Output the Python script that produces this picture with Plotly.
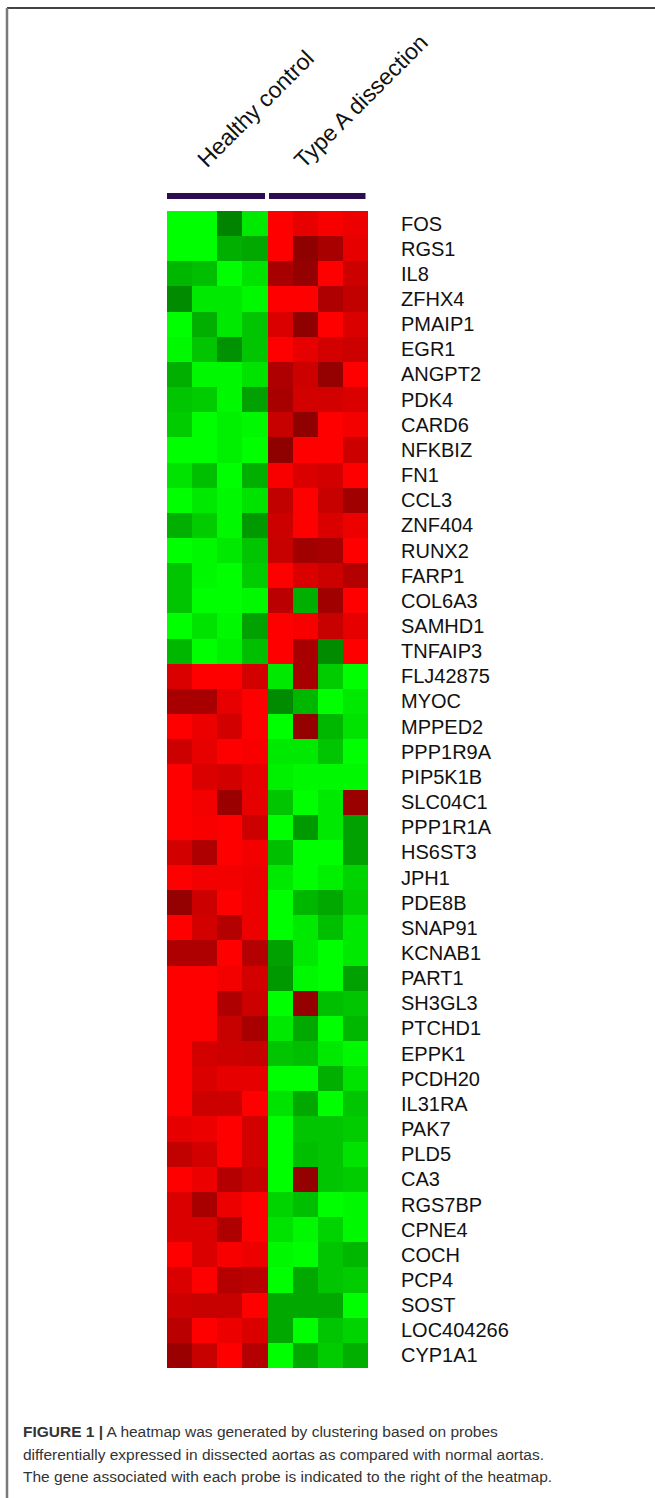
import plotly.graph_objects as go

W, H = 655, 1498

genes = [
    "FOS", "RGS1", "IL8", "ZFHX4", "PMAIP1", "EGR1", "ANGPT2", "PDK4", "CARD6",
    "NFKBIZ", "FN1", "CCL3", "ZNF404", "RUNX2", "FARP1", "COL6A3", "SAMHD1",
    "TNFAIP3", "FLJ42875", "MYOC", "MPPED2", "PPP1R9A", "PIP5K1B", "SLC04C1",
    "PPP1R1A", "HS6ST3", "JPH1", "PDE8B", "SNAP91", "KCNAB1", "PART1", "SH3GL3",
    "PTCHD1", "EPPK1", "PCDH20", "IL31RA", "PAK7", "PLD5", "CA3", "RGS7BP",
    "CPNE4", "COCH", "PCP4", "SOST", "LOC404266", "CYP1A1",
]

groups = ["Healthy control", "Type A dissection"]
group_sizes = [4, 4]
samples = ["HC1", "HC2", "HC3", "HC4", "TA1", "TA2", "TA3", "TA4"]

# relative expression per probe (negative = down / green, positive = up / red)
healthy_control = [
    [-1.0, -1.0, -0.15, -0.85], [-1.0, -1.0, -0.45, -0.4], [-0.5, -0.55, -1.0, -0.8],
    [-0.2, -0.85, -0.85, -0.95], [-1.0, -0.45, -0.85, -0.6], [-0.95, -0.6, -0.25, -0.6],
    [-0.45, -0.95, -0.95, -0.8], [-0.6, -0.65, -0.95, -0.35], [-0.65, -1.0, -0.9, -0.95],
    [-1.0, -1.0, -0.9, -1.0], [-0.8, -0.55, -1.0, -0.45], [-1.0, -0.85, -0.95, -0.8],
    [-0.45, -0.65, -0.95, -0.3], [-1.0, -0.95, -0.85, -0.6], [-0.6, -0.95, -1.0, -0.65],
    [-0.6, -1.0, -1.0, -0.95], [-1.0, -0.8, -0.95, -0.35], [-0.5, -1.0, -0.9, -0.55],
    [0.7, 1.0, 1.0, 0.65], [0.3, 0.3, 0.8, 1.0], [1.0, 0.85, 0.65, 1.0],
    [0.6, 0.8, 1.0, 0.95], [1.0, 0.7, 0.65, 0.8], [1.0, 0.9, 0.2, 0.8],
    [1.0, 0.95, 1.0, 0.6], [0.65, 0.35, 1.0, 0.9], [1.0, 0.9, 0.9, 0.85],
    [0.15, 0.6, 1.0, 0.85], [1.0, 0.65, 0.4, 0.85], [0.35, 0.35, 1.0, 0.4],
    [1.0, 1.0, 0.9, 0.65], [1.0, 1.0, 0.35, 0.6], [1.0, 1.0, 0.55, 0.3],
    [1.0, 0.65, 0.6, 0.55], [1.0, 0.7, 0.8, 0.8], [1.0, 0.6, 0.6, 1.0],
    [0.8, 0.85, 1.0, 0.65], [0.5, 0.65, 1.0, 0.65], [1.0, 0.85, 0.4, 0.55],
    [0.7, 0.3, 0.85, 1.0], [0.7, 0.7, 0.35, 1.0], [1.0, 0.7, 0.95, 0.85],
    [0.7, 1.0, 0.4, 0.45], [0.6, 0.55, 0.55, 1.0], [0.45, 1.0, 0.85, 0.7],
    [0.2, 0.55, 1.0, 0.4],
]

type_a_dissection = [
    [1.0, 0.8, 0.95, 0.85], [1.0, 0.1, 0.3, 0.8], [0.3, 0.15, 1.0, 0.6],
    [1.0, 1.0, 0.35, 0.5], [0.7, 0.1, 1.0, 0.7], [1.0, 0.8, 0.65, 0.6],
    [0.35, 0.6, 0.15, 1.0], [0.3, 0.65, 0.65, 0.7], [0.55, 0.1, 1.0, 0.9],
    [0.1, 1.0, 1.0, 0.6], [0.95, 0.7, 0.65, 1.0], [0.5, 1.0, 0.55, 0.25],
    [0.6, 1.0, 0.7, 0.85], [0.55, 0.25, 0.3, 1.0], [1.0, 0.7, 0.6, 0.4],
    [0.45, -0.45, 0.25, 1.0], [1.0, 0.95, 0.55, 0.8], [1.0, 0.3, -0.2, 1.0],
    [-0.85, 0.3, -0.65, -1.0], [-0.2, -0.5, -1.0, -0.85], [-1.0, 0.15, -0.5, -0.8],
    [-0.85, -0.85, -0.6, -1.0], [-0.9, -0.95, -0.95, -0.95], [-0.6, -1.0, -0.85, 0.2],
    [-1.0, -0.3, -0.85, -0.35], [-0.55, -1.0, -1.0, -0.35], [-0.85, -1.0, -0.9, -0.7],
    [-1.0, -0.5, -0.4, -0.65], [-1.0, -0.85, -0.55, -0.85], [-0.35, -0.85, -1.0, -0.85],
    [-0.3, -0.95, -1.0, -0.35], [-1.0, 0.15, -0.55, -0.6], [-0.85, -0.4, -1.0, -0.5],
    [-0.6, -0.55, -0.85, -0.95], [-1.0, -1.0, -0.45, -0.8], [-0.8, -0.4, -1.0, -0.6],
    [-1.0, -0.6, -0.6, -0.65], [-1.0, -0.55, -0.6, -0.8], [-1.0, 0.15, -0.6, -0.65],
    [-0.7, -0.55, -1.0, -0.95], [-0.8, -0.95, -0.7, -0.95], [-0.95, -1.0, -0.6, -0.5],
    [-1.0, -0.4, -0.6, -0.65], [-0.4, -0.4, -0.4, -1.0], [-0.4, -1.0, -0.6, -0.7],
    [-1.0, -0.4, -0.65, -0.45],
]

z = [hc + ta for hc, ta in zip(healthy_control, type_a_dissection)]

# green (down) -> dark near zero -> red (up); bright at the extremes
colorscale = [
    [0.0, "rgb(0,255,0)"],
    [0.5, "rgb(0,110,0)"],
    [0.5, "rgb(130,0,0)"],
    [1.0, "rgb(255,0,0)"],
]


def px_x(p):
    return p / W


def px_y(p):
    return 1 - p / H


fig = go.Figure(
    go.Heatmap(
        z=z,
        x=list(range(len(samples))),
        y=genes,
        zmin=-1,
        zmax=1,
        colorscale=colorscale,
        showscale=False,
        xgap=0,
        ygap=0,
        hovertemplate="%{y}<br>%{customdata}<br>%{z}<extra></extra>",
        customdata=[samples] * len(genes),
    )
)

label_font = dict(family="Arial, Liberation Sans, sans-serif", color="#111111")

fig.update_layout(
    width=W,
    height=H,
    margin=dict(l=0, r=0, t=0, b=0),
    paper_bgcolor="white",
    plot_bgcolor="white",
    xaxis=dict(
        domain=[px_x(167), px_x(368)],
        range=[-0.5, len(samples) - 0.5],
        visible=False,
        fixedrange=True,
    ),
    yaxis=dict(
        domain=[px_y(1368), px_y(211)],
        autorange="reversed",
        side="right",
        ticks="outside",
        ticklen=28,
        tickcolor="rgba(0,0,0,0)",
        showgrid=False,
        zeroline=False,
        showline=False,
        tickfont=dict(size=20, **label_font),
        fixedrange=True,
    ),
    showlegend=False,
)

# group bars above the columns
start = 0
bar_gap = 0.06
for g, n in zip(groups, group_sizes):
    fig.add_shape(
        type="line",
        xref="x",
        yref="paper",
        x0=start - 0.5 + (bar_gap if start > 0 else 0),
        x1=start + n - 0.5 - 0.1,
        y0=px_y(196),
        y1=px_y(196),
        line=dict(color="#2d0c50", width=6),
    )
    start += n

# rotated group labels
header_centers = [(255, 109), (361, 101)]
for g, (cx, cy) in zip(groups, header_centers):
    fig.add_annotation(
        text=g,
        xref="paper",
        yref="paper",
        x=px_x(cx),
        y=px_y(cy),
        xanchor="center",
        yanchor="middle",
        textangle=-45,
        showarrow=False,
        font=dict(size=23, **label_font),
    )

# figure frame (top and left rules)
fig.add_shape(type="line", xref="paper", yref="paper",
              x0=px_x(7), x1=1, y0=px_y(8), y1=px_y(8),
              line=dict(color="#444444", width=2))
fig.add_shape(type="line", xref="paper", yref="paper",
              x0=px_x(7), x1=px_x(7), y0=px_y(8), y1=0,
              line=dict(color="#7a7a7a", width=2.5))

# caption
caption_lines = [
    "<b>FIGURE 1 |</b> A heatmap was generated by clustering based on probes",
    "differentially expressed in dissected aortas as compared with normal aortas.",
    "The gene associated with each probe is indicated to the right of the heatmap.",
]
caption_y = [1431, 1454, 1476]
for line, yy in zip(caption_lines, caption_y):
    fig.add_annotation(
        text=line,
        xref="paper",
        yref="paper",
        x=px_x(21),
        y=px_y(yy),
        xanchor="left",
        yanchor="middle",
        showarrow=False,
        font=dict(size=15.5, family="Arial, Liberation Sans, sans-serif", color="#333333"),
    )

fig.write_html("out.html")
